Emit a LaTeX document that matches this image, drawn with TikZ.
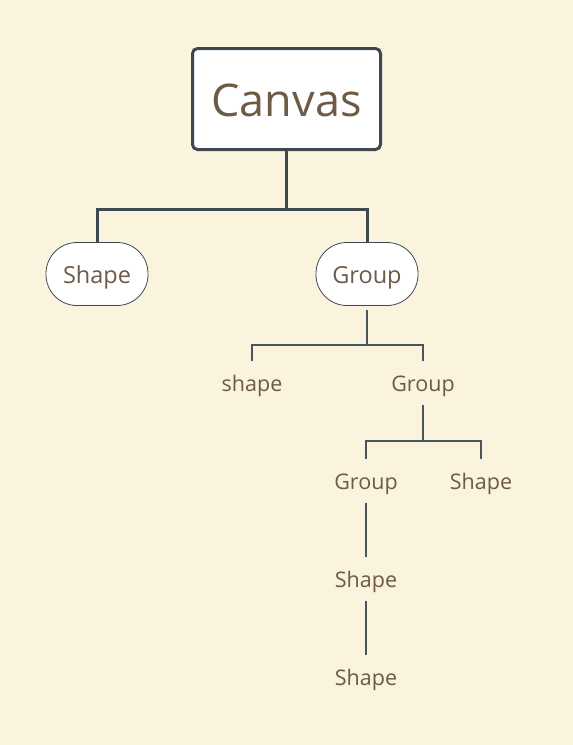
\documentclass[tikz,border=0pt]{standalone}
\usepackage{fontspec}
\setmainfont{Open Sans}
\definecolor{bgc}{HTML}{FAF3DE}
\definecolor{txt}{HTML}{6E5A45}
\definecolor{ln}{HTML}{3E4850}
\definecolor{lnthin}{HTML}{4A545C}
\begin{document}
\begin{tikzpicture}[x=1pt,y=-1pt,
  rootbox/.style={draw=ln,line width=3pt,fill=white,rounded corners=5pt,
    minimum width=188pt,minimum height=101pt,inner sep=0pt,
    text height=34pt,text depth=0pt,font=\fontsize{45}{50}\selectfont,text=txt},
  pill/.style={draw=ln,line width=0.8pt,fill=white,rounded corners=31pt,
    minimum width=102pt,minimum height=63pt,inner sep=0pt,
    text height=19pt,text depth=0pt,font=\fontsize{23.5}{26}\selectfont,text=txt},
  leaf/.style={minimum height=43pt,inner sep=0pt,
    text height=16pt,text depth=0pt,font=\fontsize{21.5}{24}\selectfont,text=txt},
  thick link/.style={draw=ln,line width=3pt},
  thin link/.style={draw=lnthin,line width=1.5pt},
]
\fill[bgc] (0,0) rectangle (573,745);
\useasboundingbox (0,0) rectangle (573,745);

\node[rootbox] (canvas) at (286.5,99) {Canvas};
\node[pill] (shapeA) at (97,274) {Shape};
\node[pill] (groupA) at (367,274) {Group};

\node[leaf] (shapeB) at (252,383) {shape};
\node[leaf] (groupB) at (423,383) {Group};
\node[leaf] (groupC) at (366,481) {Group};
\node[leaf] (shapeC) at (481,481) {Shape};
\node[leaf] (shapeD) at (366,579) {Shape};
\node[leaf] (shapeE) at (366,677) {Shape};

\coordinate (j1) at (286.5,209);
\coordinate (j2) at (367,345);
\coordinate (j3) at (423,441);

\draw[thick link] (canvas.south) -- (j1);
\draw[thick link,line join=miter] (shapeA.north) |- (j1) -| (groupA.north);

\draw[thin link,shorten <=4pt] (groupA.south) -- (j2);
\draw[thin link] (shapeB.north) |- (j2) -| (groupB.north);

\draw[thin link] (groupB.south) -- (j3);
\draw[thin link] (groupC.north) |- (j3) -| (shapeC.north);

\draw[thin link] (groupC.south) -- (shapeD.north);
\draw[thin link] (shapeD.south) -- (shapeE.north);
\end{tikzpicture}
\end{document}
